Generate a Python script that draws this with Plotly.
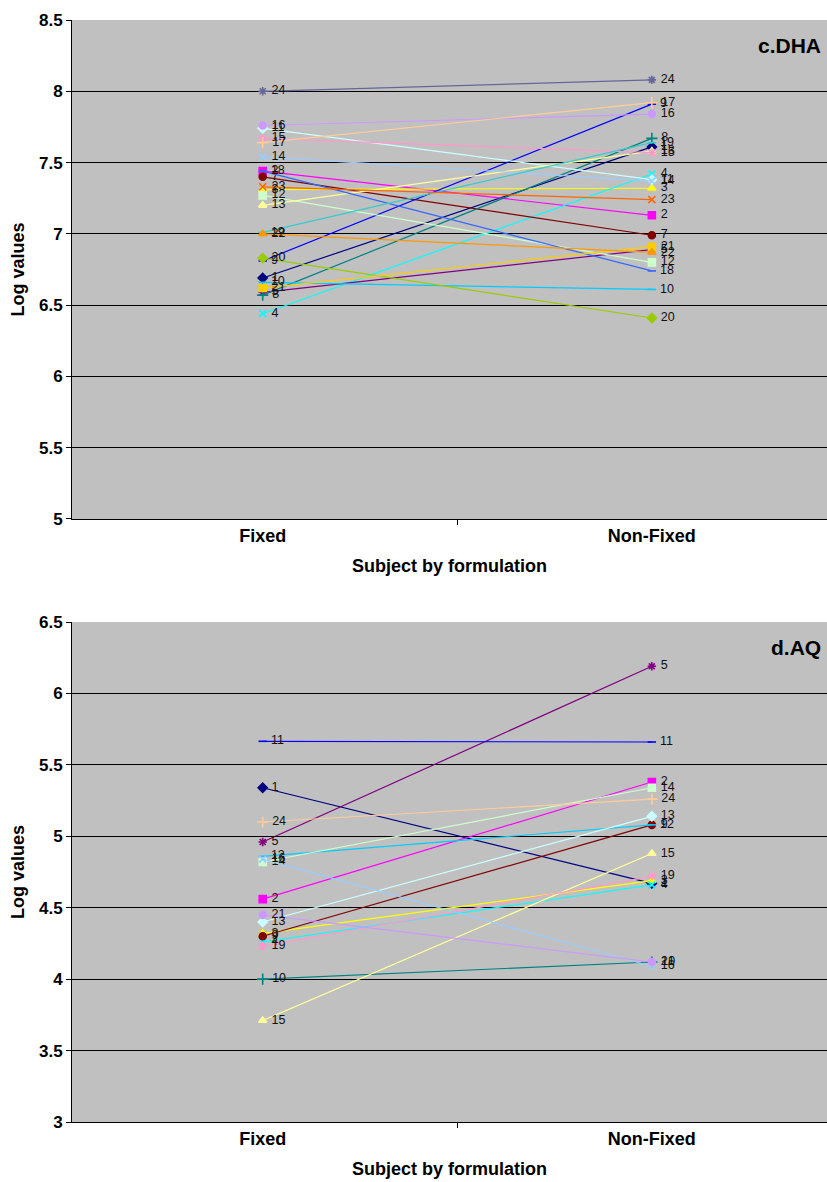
import plotly.graph_objects as go

categories = ["Fixed", "Non-Fixed"]

# Panel c.DHA (subject 6 absent)
dha_subjects = [1, 2, 3, 4, 5, 7, 8, 9, 10, 11, 12, 13, 14, 15, 16, 17, 18, 19, 20, 21, 22, 23, 24]
dha_fixed = [6.69, 7.44, 7.31, 6.44, 6.59, 7.40, 6.57, 6.81, 6.66, 7.74, 7.27, 7.20, 7.54, 7.67,
             7.76, 7.64, 7.44, 7.01, 6.83, 6.62, 7.00, 7.33, 8.00]
dha_nonfixed = [7.61, 7.13, 7.32, 7.42, 6.89, 6.99, 7.67, 7.91, 6.61, 7.38, 6.80, 7.58, 7.37, 7.57,
                7.84, 7.92, 6.74, 7.64, 6.41, 6.91, 6.87, 7.24, 8.08]

# Panel d.AQ
aq_subjects = [1, 2, 3, 4, 5, 9, 10, 11, 12, 13, 14, 15, 16, 19, 21, 24]
aq_fixed = [5.34, 4.56, 4.32, 4.26, 4.96, 4.30, 4.00, 5.665, 4.86, 4.40, 4.82, 3.71, 4.84, 4.23, 4.45, 5.10]
aq_nonfixed = [4.67, 5.38, 4.69, 4.66, 6.19, 5.08, 4.12, 5.66, 5.08, 5.14, 5.34, 4.88, 4.09, 4.72, 4.12, 5.26]

dha_ticks = [5, 5.5, 6, 6.5, 7, 7.5, 8, 8.5]
aq_ticks = [3, 3.5, 4, 4.5, 5, 5.5, 6, 6.5]

# Excel-style series colours and marker cycle
series_colors = ["#000080", "#FF00FF", "#FFFF00", "#00FFFF", "#800080", "#800000", "#008080",
                 "#0000FF", "#00CCFF", "#CCFFFF", "#CCFFCC", "#FFFF99", "#99CCFF", "#FF99CC",
                 "#CC99FF", "#FFCC99", "#3366FF", "#33CCCC", "#99CC00", "#FFCC00", "#FF9900",
                 "#FF6600", "#666699"]
marker_cycle = ["diamond", "square", "triangle-up", "x-thin-open", "asterisk-open", "circle",
                "cross-thin-open", "line-ew-open", "line-ew-open"]
marker_sizes = {"diamond": 7, "square": 7, "triangle-up": 7, "x-thin-open": 7,
                "asterisk-open": 7, "circle": 7, "cross-thin-open": 8, "line-ew-open": 6}

FONT = "Liberation Sans, Arial, sans-serif"
xpos = [0.5, 1.5]

fig = go.Figure()


def add_panel(subjects, fixed, nonfixed, xa, ya):
    for i, (s, f, n) in enumerate(zip(subjects, fixed, nonfixed)):
        col = series_colors[i % len(series_colors)]
        sym = marker_cycle[i % len(marker_cycle)]
        lbl = "\u00a0" + str(s)
        fig.add_trace(go.Scatter(
            x=xpos, y=[f, n], mode="lines+markers+text",
            text=[lbl, lbl], textposition="middle right",
            textfont=dict(family=FONT, size=12.5, color="#111111"),
            line=dict(color=col, width=1.2),
            marker=dict(symbol=sym, size=marker_sizes[sym], color=col,
                        line=dict(color=col, width=1.6)),
            xaxis=xa, yaxis=ya, showlegend=False, hoverinfo="skip", cliponaxis=False))


add_panel(dha_subjects, dha_fixed, dha_nonfixed, "x", "y")
add_panel(aq_subjects, aq_fixed, aq_nonfixed, "x2", "y2")

# the original chart is cropped on the right, so the category axis runs past the edge
xcommon = dict(range=[0.01, 1.95], tickvals=xpos, ticktext=[f"<b>{c}</b>" for c in categories],
               ticks="", showline=True,
               linecolor="black", linewidth=1, showgrid=False, zeroline=False,
               tickfont=dict(family=FONT, size=18, color="black"),
               minor=dict(tickvals=[0, 1], ticks="outside", ticklen=5, tickcolor="black"),
               fixedrange=True)


def ycommon(ticks):
    return dict(range=[ticks[0], ticks[-1]], tickvals=ticks,
                ticktext=[f"<b>{t:g}</b>" for t in ticks],
                ticks="outside", ticklen=5, tickcolor="black", showline=True, linecolor="black",
                linewidth=1, showgrid=True, gridcolor="black", gridwidth=1, zeroline=False,
                tickfont=dict(family=FONT, size=17, color="black"), fixedrange=True)


top_dom = [0.5472, 1.0]
bot_dom = [0.0, 0.4537]

fig.update_layout(
    width=827, height=1182,
    margin=dict(l=72, r=0, t=20, b=60),
    paper_bgcolor="white", plot_bgcolor="#C0C0C0",
    font=dict(family=FONT, color="black"),
    xaxis=dict(domain=[0, 1], anchor="y", **xcommon),
    yaxis=dict(domain=top_dom, anchor="x", **ycommon(dha_ticks)),
    xaxis2=dict(domain=[0, 1], anchor="y2", **xcommon),
    yaxis2=dict(domain=bot_dom, anchor="x2", **ycommon(aq_ticks)),
    showlegend=False,
)

ann = []
for dom, title in [(top_dom, "<b>c.DHA</b>"), (bot_dom, "<b>d.AQ</b>")]:
    ann.append(dict(text=title, xref="paper", yref="paper", x=1.0, xshift=-4, y=dom[1],
                    xanchor="right", yanchor="top", yshift=-12, showarrow=False,
                    font=dict(family=FONT, size=21, color="black")))
    ann.append(dict(text="<b>Log values</b>", xref="paper", yref="paper", x=0, xshift=-54,
                    y=(dom[0] + dom[1]) / 2, textangle=-90, xanchor="center", yanchor="middle",
                    showarrow=False, font=dict(family=FONT, size=18, color="black")))
    ann.append(dict(text="<b>Subject by formulation</b>", xref="paper", yref="paper", x=0.5,
                    xshift=0, y=dom[0], yshift=-35, xanchor="center", yanchor="top",
                    showarrow=False, font=dict(family=FONT, size=18, color="black")))
fig.update_layout(annotations=ann)

fig.write_html(
    "out.html",
    config={"displayModeBar": False},
    post_script="document.body.style.margin='0';document.body.style.overflow='hidden';"
)
